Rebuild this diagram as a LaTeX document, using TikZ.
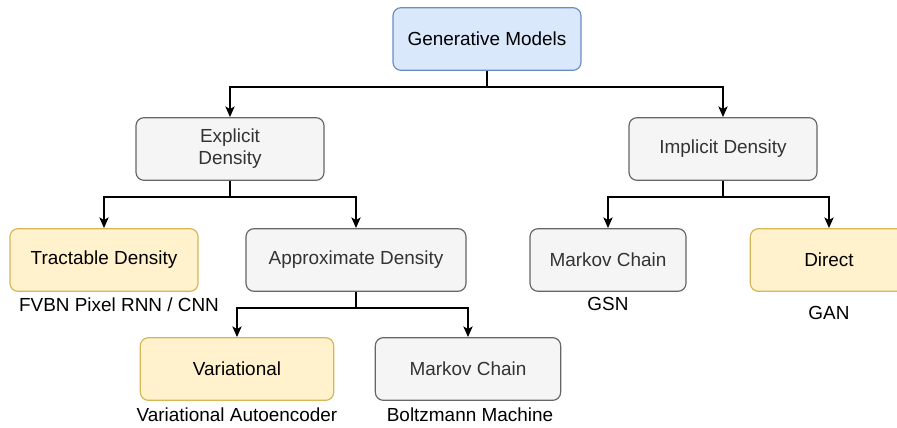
\documentclass[tikz,border=0pt]{standalone}
\usepackage{fontspec}
\setmainfont{Liberation Sans}
\usetikzlibrary{arrows.meta}

\definecolor{blueFill}{HTML}{DAE8FC}
\definecolor{blueLine}{HTML}{6C8EBF}
\definecolor{grayFill}{HTML}{F5F5F5}
\definecolor{grayLine}{HTML}{666666}
\definecolor{yellowFill}{HTML}{FFF2CC}
\definecolor{yellowLine}{HTML}{D6B656}

\tikzset{
    box/.style = {rounded corners = 6pt, line width = 0.9pt, minimum height = 47pt, inner sep = 0pt},
    rootbox/.style = {box, draw = blueLine, fill = blueFill},
    greybox/.style = {box, draw = grayLine, fill = grayFill, text = black!80},
    yellowbox/.style = {box, draw = yellowLine, fill = yellowFill},
    conn/.style = {line width = 1.1pt, -{Stealth[length = 8pt, width = 7pt, inset = 2pt]}}
}

\begin{document}
\begin{tikzpicture}[x = 0.75pt, y = - 0.75pt, align = center, font = \fontsize{14.2}{16.5}\selectfont]
        \useasboundingbox (0, 0) rectangle (897, 428);
        \clip (0, 0) rectangle (897, 428);

        \node[rootbox, minimum width = 141pt] (gen) at (487, 39) {Generative Models};

        \node[greybox, minimum width = 141pt] (expl) at (230, 149) {Explicit \\ Density};
        \node[greybox, minimum width = 141pt] (impl) at (723, 149) {Implicit Density};

        \node[yellowbox, minimum width = 141pt] (tract) at (104, 260) {Tractable Density};
        \node[greybox, minimum width = 165pt] (approx) at (356, 260) {Approximate Density};
        \node[greybox, minimum width = 117pt] (mcright) at (608, 260) {Markov Chain};
        \node[yellowbox, minimum width = 118pt] (direct) at (829, 260) {Direct};

        \node[yellowbox, minimum width = 145pt] (vari) at (237, 369) {Variational};
        \node[greybox, minimum width = 139pt] (mcbottom) at (468, 369) {Markov Chain};

        % examples under the boxes
        \node (fvbn) at (119, 305) {FVBN Pixel RNN / CNN};
        \node (gsn) at (608, 304) {GSN};
        \node (gan) at (829, 313) {GAN};
        \node (vae) at (237, 415) {Variational Autoencoder};
        \node (boltz) at (470, 415) {Boltzmann Machine};

        % tree connectors
        \draw[conn] (gen.south) -- ++(0, 16) -| (expl.north);
        \draw[conn] (gen.south) -- ++(0, 16) -| (impl.north);
        \draw[conn] (expl.south) -- ++(0, 16) -| (tract.north);
        \draw[conn] (expl.south) -- ++(0, 16) -| (approx.north);
        \draw[conn] (impl.south) -- ++(0, 16) -| (mcright.north);
        \draw[conn] (impl.south) -- ++(0, 16) -| (direct.north);
        \draw[conn] (approx.south) -- ++(0, 16) -| (vari.north);
        \draw[conn] (approx.south) -- ++(0, 16) -| (mcbottom.north);
    \end{tikzpicture}
\end{document}
